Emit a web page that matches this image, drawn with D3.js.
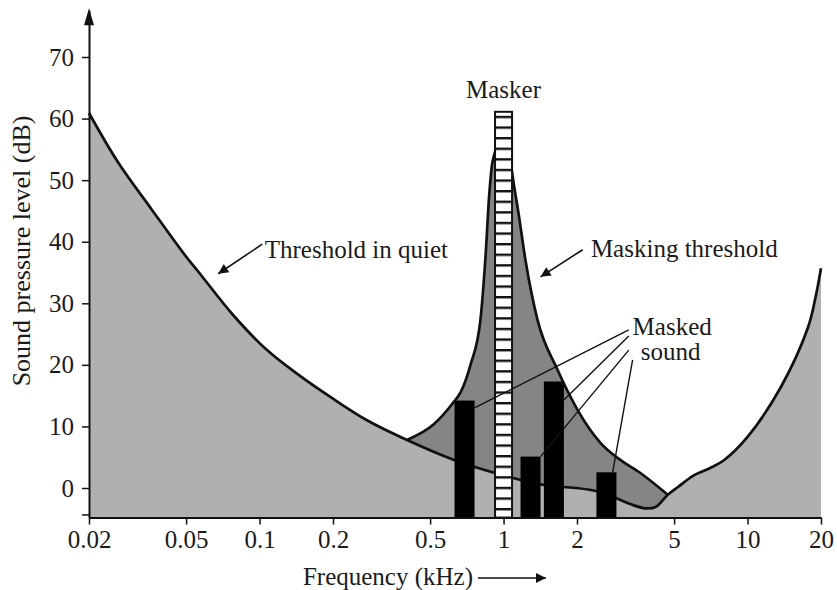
<!DOCTYPE html>
<html>
<head>
<meta charset="utf-8">
<script src="https://cdn.jsdelivr.net/npm/d3@7"></script>
<style>
  body { margin: 0; background: #fff; }
  svg { display: block; font-family: "Liberation Serif", serif; }
</style>
</head>
<body>
<div id="app"></div>
<script>
// axis ticks
const freqTicks = [0.02, 0.05, 0.1, 0.2, 0.5, 1, 2, 5, 10, 20]
const freqLabels = ["0.02", "0.05", "0.1", "0.2", "0.5", "1", "2", "5", "10", "20"]
const dbTicks = [0, 10, 20, 30, 40, 50, 60, 70]

// threshold in quiet (kHz, dB)
const quietFreq = [0.02, 0.0263, 0.0362, 0.0495, 0.057, 0.0779, 0.1073, 0.1465, 0.2, 0.2756, 0.402, 0.623, 0.97, 1.42, 2.34, 2.83, 3.3, 3.8, 4.2, 4.71, 5.2, 6.0, 7.0, 8.0, 10, 13.7, 17.7, 19.0, 20]
const quietDb = [60.9, 52.9, 45.2, 37.8, 34.8, 28.1, 22.4, 18.2, 14.5, 11, 7.8, 4.6, 2.2, 0.6, -0.4, -1.5, -2.6, -3.3, -3.1, -1.1, 0.2, 2.0, 3.2, 4.5, 8.3, 16.4, 26.1, 31, 35.7]

// masking threshold (kHz, dB)
const maskFreq = [0.402, 0.516, 0.62, 0.668, 0.732, 0.804, 0.843, 0.875, 0.901, 1.0, 1.068, 1.1, 1.15, 1.23, 1.378, 1.664, 2.01, 2.5, 3.0, 3.65, 4.71]
const maskDb = [7.8, 10.3, 13.8, 15.6, 20, 27.3, 37.4, 48, 53, 57, 53, 49.5, 44.8, 37, 27.3, 19.2, 12.7, 7.3, 4.6, 2.4, -1.1]

// masker tone
const maskerFreq = 1
const maskerDb = 61.1

// masked sounds
const soundFreq = [0.692, 1.29, 1.608, 2.64]
const soundDb = [14.2, 5.1, 17.3, 2.55]

// annotation anchors (kHz, dB)
const quietArrow = [[0.1026, 39.6], [0.0677, 34.8]]
const maskArrow = [[2.11, 38.7], [1.418, 34.3]]
const maskedFrom = [[3.26, 25.7], [3.26, 24.7], [3.26, 22.4], [3.38, 20.8]]
const maskedTo = [[0.76, 13.0], [1.767, 14.3], [1.418, 5.1], [2.80, 2.55]]

const width = 837, height = 590
const x = d3.scaleLog().domain([0.02, 20]).range([89, 821])
const y = d3.scaleLinear().domain([0, 70]).range([488, 57])
const yBottom = -4.8, yTop = 77.6
const FS = 25

const svg = d3.select('#app').append('svg')
    .attr('width', width)
    .attr('height', height)

const defs = svg.append('defs')
defs.append('marker')
    .attr('id', 'arr')
    .attr('viewBox', '0 0 10 10')
    .attr('refX', 10).attr('refY', 5)
    .attr('markerWidth', 14).attr('markerHeight', 10)
    .attr('markerUnits', 'userSpaceOnUse')
    .attr('orient', 'auto')
    .append('path').attr('d', 'M0,0L10,5L0,10Z').attr('fill', '#111')

const quiet = quietFreq.map((f, i) => [f, quietDb[i]])
const mask = maskFreq.map((f, i) => [f, maskDb[i]])

const area = d3.area()
    .x(d => x(d[0]))
    .y0(y(yBottom))
    .y1(d => y(d[1]))
const line = d3.line()
    .x(d => x(d[0]))
    .y(d => y(d[1]))

const quietCurve = d3.curveCatmullRom.alpha(0.5)
const maskCurve = d3.curveMonotoneX

// masking area first, quiet area over it
svg.append('path').attr('d', area.curve(maskCurve)(mask)).attr('fill', '#858585')
svg.append('path').attr('d', area.curve(quietCurve)(quiet)).attr('fill', '#b0b0b0')
svg.append('path').attr('d', line.curve(maskCurve)(mask)).attr('fill', 'none').attr('stroke', '#111').attr('stroke-width', 2.7)
svg.append('path').attr('d', line.curve(quietCurve)(quiet)).attr('fill', 'none').attr('stroke', '#111').attr('stroke-width', 2.7)

// masked sounds
const barW = 20
svg.selectAll('.snd')
    .data(soundFreq.map((f, i) => [f, soundDb[i]]))
    .join('rect')
    .attr('class', 'snd')
    .attr('x', d => x(d[0]) - barW / 2)
    .attr('width', barW)
    .attr('y', d => y(d[1]))
    .attr('height', d => y(yBottom) - y(d[1]))
    .attr('fill', '#000')

// masker with stripes
const mTop = y(maskerDb)
const mW = 17
const pat = defs.append('pattern')
    .attr('id', 'stripes')
    .attr('patternUnits', 'userSpaceOnUse')
    .attr('x', 0).attr('y', mTop + 4)
    .attr('width', 40).attr('height', 10.6)
pat.append('rect').attr('width', 40).attr('height', 10.6).attr('fill', '#fff')
pat.append('rect').attr('y', 0).attr('width', 40).attr('height', 2.4).attr('fill', '#111')

svg.append('rect')
    .attr('x', x(maskerFreq) - mW / 2)
    .attr('y', mTop)
    .attr('width', mW)
    .attr('height', y(yBottom) - mTop)
    .attr('fill', 'url(#stripes)')
    .attr('stroke', '#111')
    .attr('stroke-width', 2)

svg.append('text')
    .attr('x', x(maskerFreq))
    .attr('y', mTop - 14)
    .attr('text-anchor', 'middle')
    .attr('font-size', FS)
    .attr('fill', '#1a1a1a')
    .text('Masker')

// axes
const xAxis = d3.axisBottom(x)
    .tickValues(freqTicks)
    .tickFormat((d, i) => freqLabels[i])
    .tickSize(7).tickSizeOuter(0).tickPadding(6)
const gx = svg.append('g')
    .attr('transform', `translate(0,${y(yBottom)})`)
    .call(xAxis)
gx.select('.domain').attr('stroke', '#111').attr('stroke-width', 2)
gx.selectAll('.tick line').attr('stroke', '#111').attr('stroke-width', 1.5)
gx.selectAll('.tick text').attr('font-size', FS).attr('font-family', 'Liberation Serif').attr('fill', '#1a1a1a')

const yAxisScale = y.copy().domain([yBottom, yTop]).range([y(yBottom), y(yTop)])
const yAxis = d3.axisLeft(yAxisScale)
    .tickValues([-4.3, ...dbTicks])
    .tickFormat(d => d < 0 ? '' : d)
    .tickSize(7).tickSizeOuter(0).tickPadding(8)
const gy = svg.append('g')
    .attr('transform', `translate(${x(0.02)},0)`)
    .call(yAxis)
gy.select('.domain').attr('stroke', '#111').attr('stroke-width', 2)
gy.selectAll('.tick line').attr('stroke', '#111').attr('stroke-width', 1.5)
gy.selectAll('.tick text').attr('font-size', FS).attr('font-family', 'Liberation Serif').attr('fill', '#1a1a1a')

// arrowhead on y axis
svg.append('path')
    .attr('d', `M${x(0.02)},${y(yTop) - 2}l-5,17h10z`)
    .attr('fill', '#111')

// axis titles
svg.append('text')
    .attr('transform', `translate(30,${y(38.5)}) rotate(-90)`)
    .attr('text-anchor', 'middle')
    .attr('font-size', 26)
    .attr('fill', '#1a1a1a')
    .text('Sound pressure level (dB)')

svg.append('text')
    .attr('x', 388)
    .attr('y', 585)
    .attr('text-anchor', 'middle')
    .attr('font-size', FS)
    .attr('fill', '#1a1a1a')
    .text('Frequency (kHz)')
svg.append('line')
    .attr('x1', 478).attr('x2', 546)
    .attr('y1', 578).attr('y2', 578)
    .attr('stroke', '#111').attr('stroke-width', 1.6)
    .attr('marker-end', 'url(#arr)')

// annotations
const ann = (pts) => svg.append('line')
    .attr('x1', x(pts[0][0])).attr('y1', y(pts[0][1]))
    .attr('x2', x(pts[1][0])).attr('y2', y(pts[1][1]))
    .attr('stroke', '#111').attr('stroke-width', 1.6)
    .attr('marker-end', 'url(#arr)')
ann(quietArrow)
ann(maskArrow)

svg.append('text')
    .attr('x', x(0.105)).attr('y', y(37.4))
    .attr('font-size', FS).attr('fill', '#1a1a1a')
    .text('Threshold in quiet')
svg.append('text')
    .attr('x', x(2.28)).attr('y', y(37.5))
    .attr('font-size', FS).attr('fill', '#1a1a1a')
    .text('Masking threshold')

svg.selectAll('.lead')
    .data(maskedFrom.map((p, i) => [p, maskedTo[i]]))
    .join('line')
    .attr('class', 'lead')
    .attr('x1', d => x(d[0][0])).attr('y1', d => y(d[0][1]))
    .attr('x2', d => x(d[1][0])).attr('y2', d => y(d[1][1]))
    .attr('stroke', '#111').attr('stroke-width', 1.4)

svg.append('text')
    .attr('x', x(3.38)).attr('y', y(24.8))
    .attr('font-size', FS).attr('fill', '#1a1a1a')
    .text('Masked')
svg.append('text')
    .attr('x', x(3.65)).attr('y', y(20.8))
    .attr('font-size', FS).attr('fill', '#1a1a1a')
    .text('sound')
</script>
</body>
</html>
